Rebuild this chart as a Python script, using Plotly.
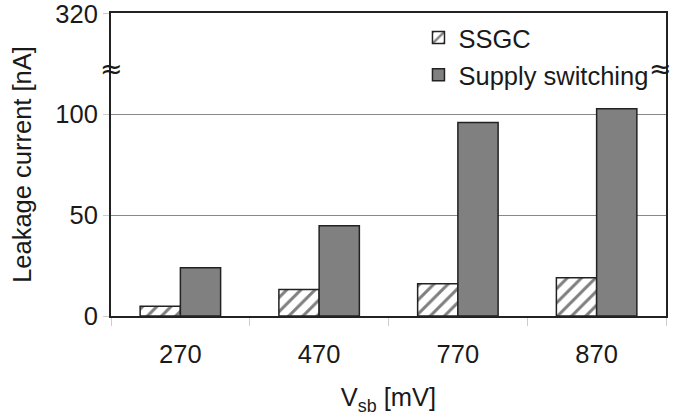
import plotly.graph_objects as go

categories = ["270", "470", "770", "870"]
ssgc = [4.8, 13.2, 16.0, 19.0]
supply_switching = [23.9, 44.8, 96.0, 102.8]
y_tick_vals = [0, 50, 100, 150]
y_tick_text = ["0", "50", "100", "320"]
break_pos = 123

FONT = "Liberation Sans, Arial, sans-serif"
FS = 25.5

fig = go.Figure()
fig.add_trace(go.Bar(
    x=categories, y=ssgc, name="SSGC",
    marker=dict(color="white", line=dict(color="#222222", width=1.5),
                pattern=dict(shape="/", fgcolor="#000000", bgcolor="white",
                             size=10, solidity=0.3)),
    legendgroup="a",
))
fig.add_trace(go.Bar(
    x=categories, y=supply_switching, name="Supply switching",
    marker=dict(color="#808080", line=dict(color="#222222", width=1.5)),
    legendgroup="b",
))

fig.update_layout(
    width=673, height=417,
    margin=dict(l=111, r=7, t=13, b=101),
    paper_bgcolor="white", plot_bgcolor="white",
    font=dict(family=FONT, size=FS, color="#1a1a1a"),
    barmode="group", bargap=0.42, bargroupgap=0,
    showlegend=True,
    legend=dict(x=0.554, y=0.995, xanchor="left", yanchor="top",
                bgcolor="rgba(0,0,0,0)", font=dict(size=FS),
                tracegroupgap=1),
    xaxis=dict(
        showline=True, linecolor="#222222", linewidth=2, mirror=True,
        tickson="boundaries", ticks="outside", ticklen=8, tickcolor="#cccccc",
        tickwidth=1, ticklabelstandoff=14,
        title=dict(text="V<sub>sb</sub> [mV]", standoff=22, font=dict(size=FS)),
        showgrid=False,
    ),
    yaxis=dict(
        range=[0, 150.3], tickvals=y_tick_vals, ticktext=y_tick_text,
        ticklabeloverflow="allow", automargin=False,
        showline=True, linecolor="#222222", linewidth=2, mirror=True,
        ticks="outside", ticklen=6, tickcolor="#cccccc", tickwidth=1,
        showgrid=True, gridcolor="#888888", gridwidth=1,
        zeroline=False,
        title=dict(text="Leakage current [nA]", standoff=16, font=dict(size=FS)),
    ),
)

for xp, shift in [(0, 0), (1, -6)]:
    fig.add_annotation(
        x=xp, xref="paper", y=break_pos, yref="y", text="≈",
        xanchor="center", yanchor="middle", xshift=shift,
        showarrow=False, font=dict(size=27, color="#1a1a1a", family="DejaVu Sans"),
    )

fig.write_html("out.html")
